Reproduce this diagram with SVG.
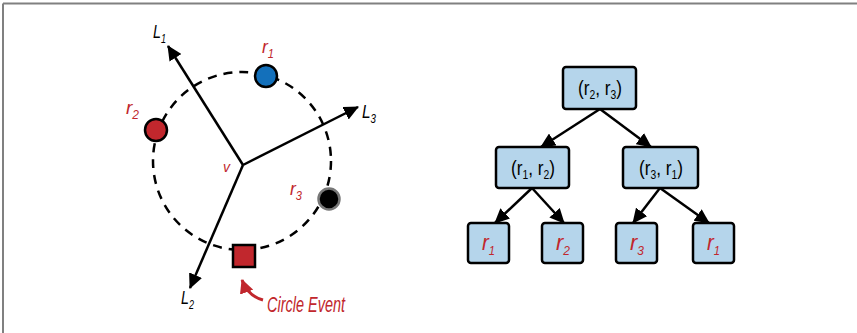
<svg xmlns="http://www.w3.org/2000/svg" width="857" height="333" viewBox="0 0 857 333">
<style>
.lbl{font-family:"Liberation Sans",Arial,sans-serif;font-style:italic;font-size:19px}
.red{fill:#c1272d}
.blk{fill:#000}
.sub{font-size:12px}
.ln{stroke:#000;stroke-width:2.5;fill:none}
.box{fill:#b5d5eb;stroke:#000;stroke-width:2.5}
.bt{font-family:"Liberation Sans",Arial,sans-serif;font-size:20px;fill:#000}
.lt{font-family:"Liberation Sans",Arial,sans-serif;font-style:italic;font-size:22px;fill:#c1272d}
</style>
<defs>
<marker id="ah" markerUnits="userSpaceOnUse" markerWidth="16" markerHeight="14" refX="14" refY="7" orient="auto">
<path d="M0,0 L15,7 L0,14 Z" fill="#000"/>
</marker>
<marker id="ahr" markerUnits="userSpaceOnUse" markerWidth="16" markerHeight="14" refX="13" refY="7" orient="auto">
<path d="M0,0 L14,7 L0,14 Z" fill="#c1272d"/>
</marker>
</defs>
<g id="frame">
<path d="M3,3.5 H857 M3,3.5 V333" stroke="#808080" stroke-width="2" fill="none"/>
</g>
<g id="circle-diagram">
<circle cx="242" cy="161" r="89" fill="none" stroke="#000" stroke-width="2.5" stroke-dasharray="9 7"/>
</g>
<g id="connectors">
<line class="ln" x1="243" y1="165" x2="168" y2="46" marker-end="url(#ah)"/>
<line class="ln" x1="243" y1="165" x2="358" y2="107" marker-end="url(#ah)"/>
<line class="ln" x1="243" y1="165" x2="190" y2="288" marker-end="url(#ah)"/>
<path d="M263,300 Q248,296 242,280" stroke="#c1272d" stroke-width="3" fill="none" marker-end="url(#ahr)"/>
<line class="ln" x1="600" y1="109" x2="541" y2="147" marker-end="url(#ah)"/>
<line class="ln" x1="600" y1="109" x2="651" y2="147" marker-end="url(#ah)"/>
<line class="ln" x1="532" y1="188" x2="495" y2="223" marker-end="url(#ah)"/>
<line class="ln" x1="532" y1="188" x2="564" y2="223" marker-end="url(#ah)"/>
<line class="ln" x1="660" y1="188" x2="633" y2="223" marker-end="url(#ah)"/>
<line class="ln" x1="660" y1="188" x2="709" y2="223" marker-end="url(#ah)"/>
</g>
<g id="r1">
<circle cx="266" cy="76" r="11" fill="#1370bb" stroke="#000" stroke-width="2.5"/>
<text class="lbl red" x="262" y="53" textLength="12" lengthAdjust="spacingAndGlyphs">r<tspan class="sub" dy="5">1</tspan></text>
</g>
<g id="r2">
<circle cx="156" cy="130" r="11" fill="#c1272d" stroke="#000" stroke-width="2.5"/>
<text class="lbl red" x="126" y="114" textLength="13" lengthAdjust="spacingAndGlyphs">r<tspan class="sub" dy="5">2</tspan></text>
</g>
<g id="r3">
<circle cx="329" cy="199" r="10.5" fill="#000" stroke="#777" stroke-width="2.5"/>
<text class="lbl red" x="290" y="195" textLength="12" lengthAdjust="spacingAndGlyphs">r<tspan class="sub" dy="5">3</tspan></text>
</g>
<g id="v">
<text class="lbl red" x="223" y="172" style="font-size:14px">v</text>
</g>
<g id="circle-event">
<rect x="233" y="245" width="22" height="22" fill="#c1272d" stroke="#000" stroke-width="2.5"/>
<text class="lbl red" x="267" y="312" textLength="78" lengthAdjust="spacingAndGlyphs" style="font-size:22px">Circle Event</text>
</g>
<g id="L1"><text class="lbl blk" x="153" y="38" textLength="13" lengthAdjust="spacingAndGlyphs">L<tspan class="sub" dy="5">1</tspan></text></g>
<g id="L3"><text class="lbl blk" x="362" y="118" textLength="14" lengthAdjust="spacingAndGlyphs">L<tspan class="sub" dy="5">3</tspan></text></g>
<g id="L2"><text class="lbl blk" x="181" y="304" textLength="13" lengthAdjust="spacingAndGlyphs">L<tspan class="sub" dy="5">2</tspan></text></g>
<g id="node-r2r3">
<rect class="box" x="563" y="67" width="73" height="42" rx="3"/>
<text class="bt" x="578" y="95" textLength="44" lengthAdjust="spacingAndGlyphs">(r<tspan class="sub" dy="4">2</tspan><tspan dy="-4">, r</tspan><tspan class="sub" dy="4">3</tspan><tspan dy="-4">)</tspan></text>
</g>
<g id="node-r1r2">
<rect class="box" x="496" y="147" width="73" height="41" rx="3"/>
<text class="bt" x="511" y="175" textLength="44" lengthAdjust="spacingAndGlyphs">(r<tspan class="sub" dy="4">1</tspan><tspan dy="-4">, r</tspan><tspan class="sub" dy="4">2</tspan><tspan dy="-4">)</tspan></text>
</g>
<g id="node-r3r1">
<rect class="box" x="623" y="147" width="75" height="41" rx="3"/>
<text class="bt" x="639" y="175" textLength="44" lengthAdjust="spacingAndGlyphs">(r<tspan class="sub" dy="4">3</tspan><tspan dy="-4">, r</tspan><tspan class="sub" dy="4">1</tspan><tspan dy="-4">)</tspan></text>
</g>
<g id="leaf-r1a">
<rect class="box" x="468" y="223" width="41" height="40" rx="3"/>
<text class="lt" x="482" y="250" textLength="13" lengthAdjust="spacingAndGlyphs">r<tspan class="sub" dy="5">1</tspan></text>
</g>
<g id="leaf-r2">
<rect class="box" x="542" y="223" width="41" height="40" rx="3"/>
<text class="lt" x="556" y="250" textLength="14" lengthAdjust="spacingAndGlyphs">r<tspan class="sub" dy="5">2</tspan></text>
</g>
<g id="leaf-r3">
<rect class="box" x="616" y="223" width="41" height="40" rx="3"/>
<text class="lt" x="630" y="250" textLength="14" lengthAdjust="spacingAndGlyphs">r<tspan class="sub" dy="5">3</tspan></text>
</g>
<g id="leaf-r1b">
<rect class="box" x="693" y="223" width="41" height="40" rx="3"/>
<text class="lt" x="707" y="250" textLength="13" lengthAdjust="spacingAndGlyphs">r<tspan class="sub" dy="5">1</tspan></text>
</g>
</svg>
